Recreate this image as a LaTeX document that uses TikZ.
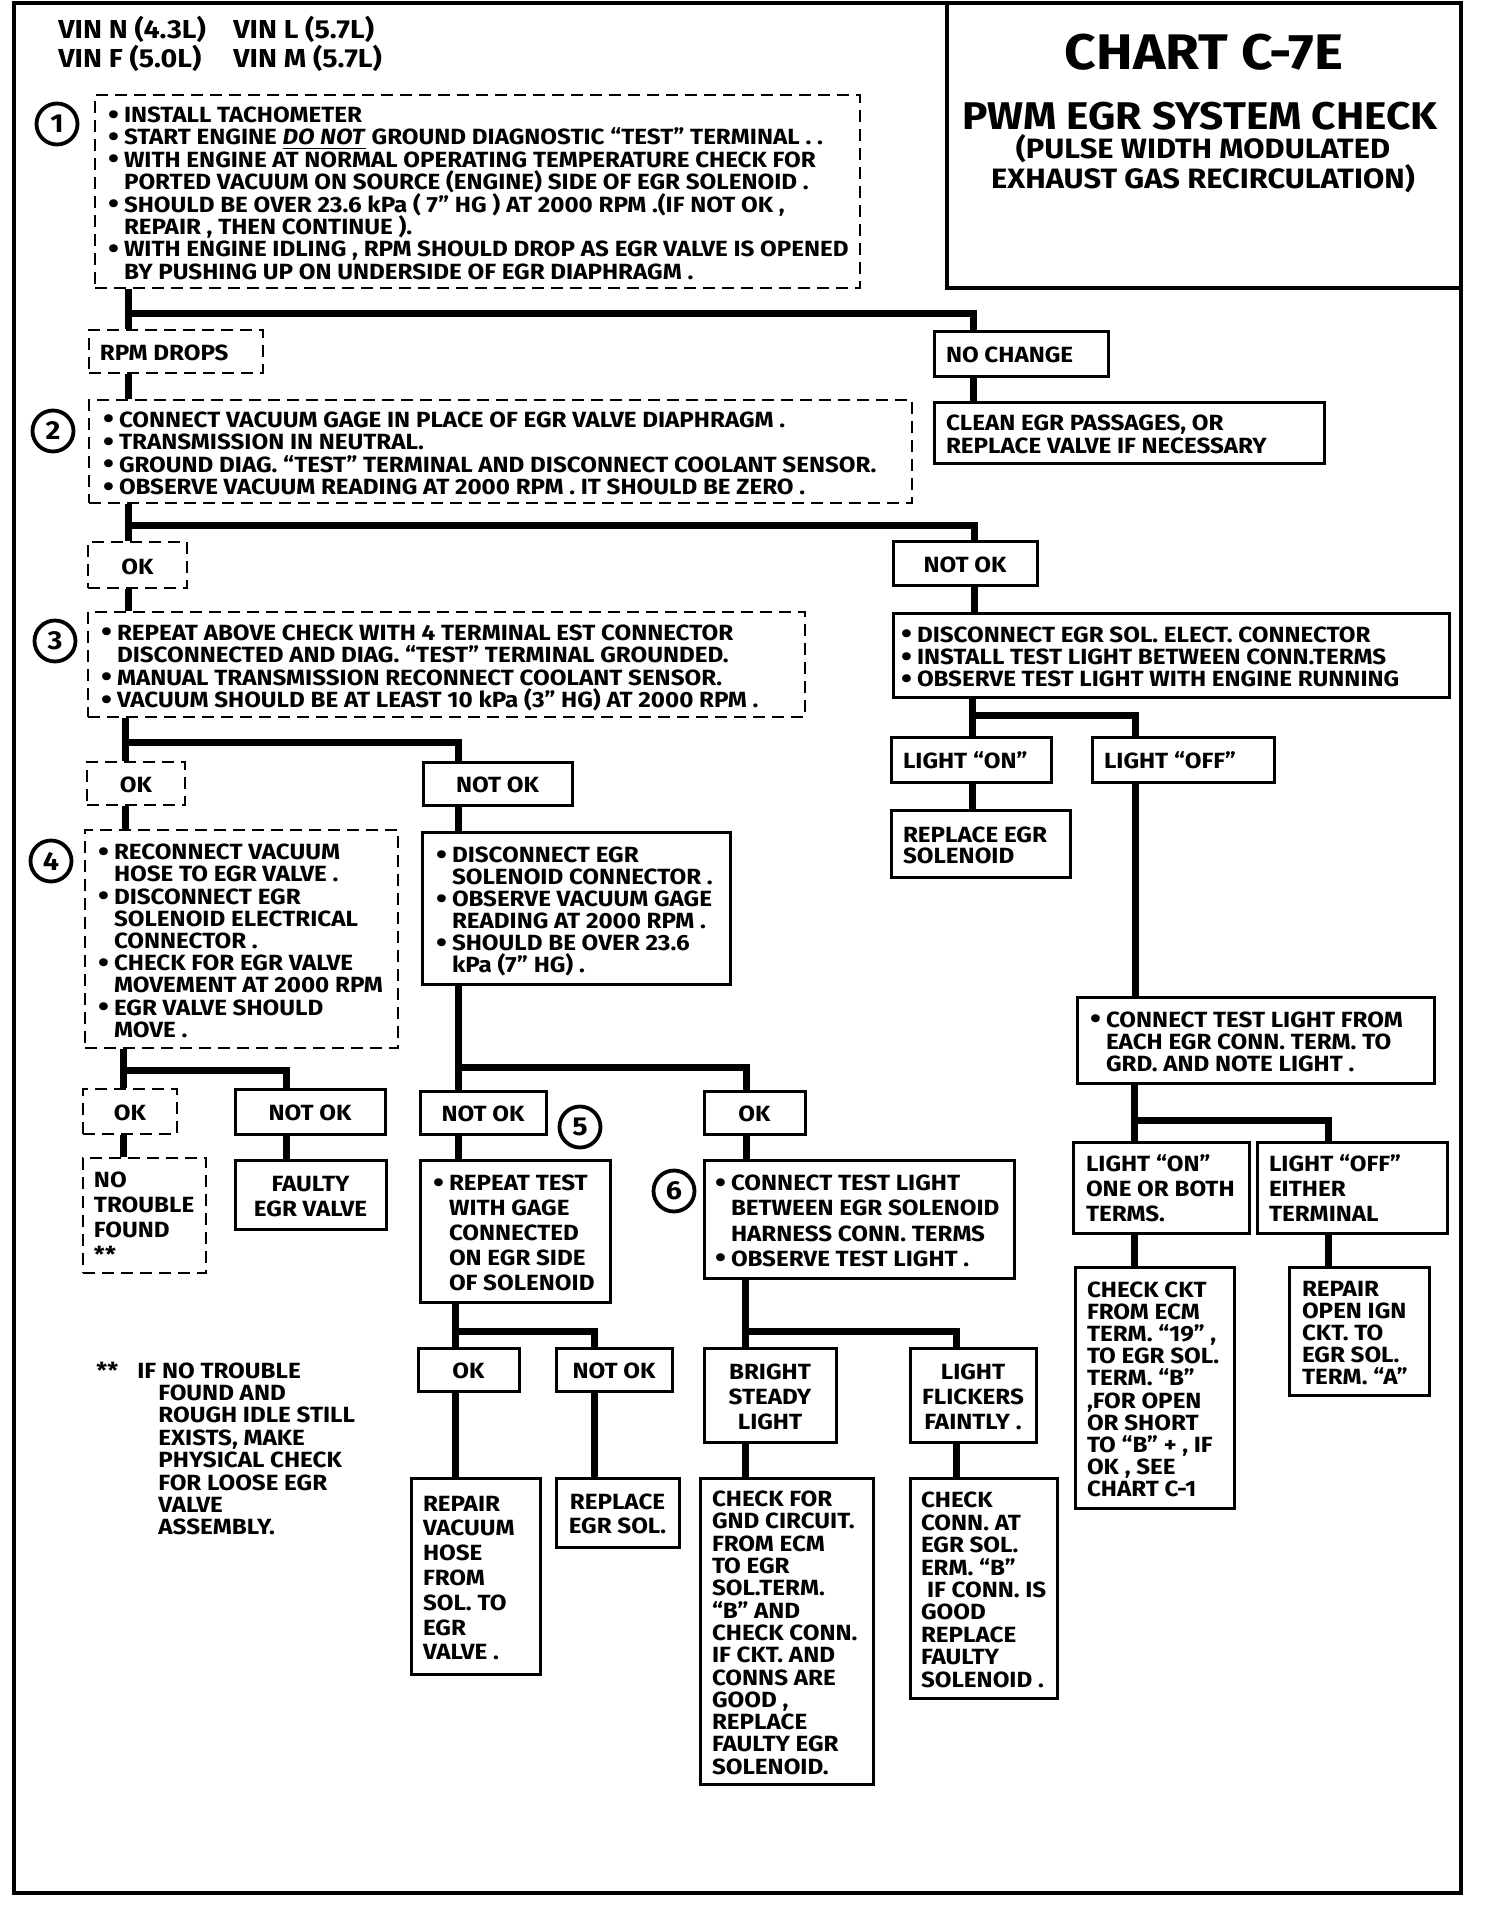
\documentclass[tikz,border=0pt]{standalone}
\usepackage{graphicx}
\usepackage{fontspec}
\setmainfont{Fira Sans}[FakeStretch=1.1]
\newcommand\bul{\makebox[7pt][l]{\hspace*{-1pt}\raisebox{-0.8pt}{\scalebox{1.3}{\textbullet}}}}
\newcommand\ind{\hspace*{7pt}}
\newcommand\bxl[8]{%
  \pgfmathsetmacro\Bxw{(#4-#2)*0.5}%
  \pgfmathsetmacro\Bxh{(#5-#3)*0.5}%
  \pgfmathsetmacro\Bxx{(#2+#4)/2}%
  \pgfmathsetmacro\Bxy{(#3+#5)/2}%
  \pgfmathsetmacro\Bxp{#7*0.5}%
  \node[#6, minimum width=\Bxw pt, minimum height=\Bxh pt] (#1) at (\Bxx,\Bxy)
    {\makebox[\Bxw pt][l]{\hspace*{\Bxp pt}\vbox{\kern9.4pt\let\\\cr\halign{\smash{##}\hfil\cr#8\crcr}}}};}
\newcommand\bxc[7]{%
  \pgfmathsetmacro\Bxw{(#4-#2)*0.5}%
  \pgfmathsetmacro\Bxh{(#5-#3)*0.5}%
  \pgfmathsetmacro\Bxx{(#2+#4)/2}%
  \pgfmathsetmacro\Bxy{(#3+#5)/2}%
  \node[#6, minimum width=\Bxw pt, minimum height=\Bxh pt] (#1) at (\Bxx,\Bxy)
    {\makebox[\Bxw pt][c]{\vbox{\kern9.4pt\let\\\cr\halign{\hfil\smash{##}\hfil\cr#7\crcr}}}};}
\tikzset{
  sbox/.style={draw, line width=1.5pt, inner sep=0pt, font={\fontsize{11}{11.2}\selectfont\bfseries}},
  dbox/.style={sbox, dash pattern=on 6pt off 3.5pt, line width=1.3pt},
  ls/.style={font={\fontsize{11}{#1}\selectfont\bfseries}},
  conn/.style={line width=3.5pt},
  circ/.style={circle, draw, line width=1.9pt, minimum size=20.5pt, inner sep=0pt, font={\fontsize{13}{13}\selectfont\bfseries}},
  ttl/.style={anchor=base, inner sep=0pt},
}
\begin{document}
\begin{tikzpicture}[x=0.5pt,y=-0.5pt]
\useasboundingbox (0,0) rectangle (1504,1916);
\fill[white] (0,0) rectangle (1504,1916);
% frame and title
\draw[line width=2pt] (14,3) rectangle (1461,1893);
\node[draw, line width=1.6pt, minimum width=257pt, minimum height=142.5pt, inner sep=0pt] (tbox) at (1204,145.5) {};
\node[ttl, font={\fontsize{25}{25}\selectfont\bfseries}] (t1) at (1204,70) {CHART C-7E};
\node[ttl, font={\fontsize{19.3}{19.3}\selectfont\bfseries}] (t2) at (1200,130) {PWM EGR SYSTEM CHECK};
\node[ttl, font={\fontsize{14}{14}\selectfont\bfseries}] (t3) at (1203,158) {(PULSE WIDTH MODULATED};
\node[ttl, font={\fontsize{14}{14}\selectfont\bfseries}] (t4) at (1203,188) {EXHAUST GAS RECIRCULATION)};
\node[anchor=base west, inner sep=0pt, font={\fontsize{13}{13}\selectfont\bfseries}] (vin1) at (58,39) {\makebox[87.5pt][l]{VIN N (4.3L)}VIN L (5.7L)};
\node[anchor=base west, inner sep=0pt, font={\fontsize{13}{13}\selectfont\bfseries}] (vin2) at (58,68) {\makebox[87.5pt][l]{VIN F (5.0L)}VIN M (5.7L)};
% circles
\node[circ] (c1) at (57,124) {1};
\node[circ] (c2) at (53,431) {2};
\node[circ] (c3) at (55,641) {3};
\node[circ] (c4) at (51,861) {4};
\node[circ] (c5) at (580,1127) {5};
\node[circ] (c6) at (674,1191) {6};
% boxes
\bxl{b1}{95}{95}{860}{288}{dbox,ls=11.2}{15}{\bul INSTALL TACHOMETER\\ \bul START ENGINE \underline{\textit{DO NOT}} GROUND  DIAGNOSTIC “TEST” TERMINAL . .\\ \bul WITH ENGINE AT NORMAL OPERATING TEMPERATURE  CHECK FOR\\ \ind PORTED VACUUM ON SOURCE (ENGINE) SIDE OF EGR SOLENOID .\\ \bul SHOULD BE OVER 23.6 kPa  ( 7” HG ) AT 2000 RPM .(IF NOT OK ,\\ \ind REPAIR , THEN CONTINUE ).\\ \bul WITH ENGINE IDLING , RPM  SHOULD DROP AS EGR VALVE IS OPENED\\ \ind BY PUSHING UP ON UNDERSIDE OF EGR DIAPHRAGM .}
\bxl{rpm}{89}{330}{263}{373}{dbox}{11}{RPM DROPS}
\bxl{nochg}{934}{331}{1108}{376}{sbox}{12}{NO CHANGE}
\bxl{clean}{934}{402}{1324}{463}{sbox}{12}{CLEAN EGR  PASSAGES, OR\\REPLACE VALVE IF NECESSARY}
\bxl{b2}{89}{400}{912}{503}{dbox}{16}{\bul CONNECT VACUUM GAGE IN PLACE OF EGR VALVE DIAPHRAGM .\\ \bul TRANSMISSION IN NEUTRAL.\\ \bul GROUND DIAG. “TEST” TERMINAL AND DISCONNECT COOLANT SENSOR.\\ \bul OBSERVE VACUUM READING AT 2000 RPM . IT SHOULD BE ZERO .}
\bxc{ok1}{88}{542}{187}{588}{dbox}{OK}
\bxc{notok1}{893}{541}{1037}{585}{sbox}{NOT OK}
\bxl{dis1}{893}{613}{1449}{697}{sbox}{10}{\bul DISCONNECT EGR SOL. ELECT. CONNECTOR\\ \bul INSTALL TEST LIGHT BETWEEN CONN.TERMS\\ \bul OBSERVE TEST LIGHT WITH ENGINE RUNNING}
\bxl{b3}{88}{612}{805}{717}{dbox,ls=11.2}{15}{\bul REPEAT ABOVE CHECK WITH  4 TERMINAL EST CONNECTOR\\ \ind DISCONNECTED AND DIAG. “TEST” TERMINAL GROUNDED.\\ \bul MANUAL TRANSMISSION RECONNECT COOLANT SENSOR.\\ \bul VACUUM SHOULD BE AT LEAST 10 kPa (3” HG) AT 2000 RPM .}
\bxl{lon}{891}{737}{1051}{782}{sbox}{12}{LIGHT “ON”}
\bxl{loff}{1092}{737}{1274}{782}{sbox}{12}{LIGHT “OFF”}
\bxl{repsol}{891}{810}{1070}{877}{sbox,ls=10.5}{12}{REPLACE  EGR\\SOLENOID}
\bxl{ctl}{1077}{997}{1434}{1083}{sbox}{15}{\bul CONNECT TEST LIGHT FROM\\ \ind EACH EGR CONN. TERM. TO\\ \ind GRD. AND NOTE LIGHT .}
\bxl{lon2}{1073}{1142}{1249}{1233}{sbox,ls=12.5}{13}{LIGHT “ON”\\ONE OR BOTH\\TERMS.}
\bxl{loff2}{1257}{1142}{1447}{1233}{sbox,ls=12.5}{12}{LIGHT “OFF”\\EITHER\\TERMINAL}
\bxl{chk}{1075}{1267}{1234}{1508}{sbox,ls=11.1}{12}{CHECK  CKT\\FROM ECM\\TERM. “19” ,\\TO EGR SOL.\\TERM. “B”\\,FOR OPEN\\OR SHORT\\TO “B”  + , IF\\OK , SEE\\CHART C-1}
\bxl{repign}{1289}{1267}{1429}{1395}{sbox,ls=11.1}{13}{REPAIR\\OPEN IGN\\CKT. TO\\EGR SOL.\\TERM. “A”}
\bxc{ok2}{87}{762}{185}{805}{dbox}{OK}
\bxc{notok2}{423}{762}{572}{805}{sbox}{NOT OK}
\bxl{b4}{85}{830}{398}{1048}{dbox,ls=11.1}{15}{\bul RECONNECT VACUUM\\ \ind HOSE TO EGR VALVE  .\\ \bul DISCONNECT EGR\\ \ind SOLENOID ELECTRICAL\\ \ind CONNECTOR .\\ \bul CHECK FOR EGR VALVE\\ \ind MOVEMENT AT 2000 RPM\\ \bul EGR VALVE SHOULD\\ \ind MOVE .}
\bxl{dis2}{422}{832}{730}{984}{sbox,ls=11}{16}{\bul DISCONNECT EGR\\ \ind SOLENOID CONNECTOR .\\ \bul OBSERVE VACUUM GAGE\\ \ind READING AT 2000 RPM .\\ \bul SHOULD BE OVER 23.6\\ \ind kPa (7” HG) .}
\bxc{ok3}{83}{1089}{177}{1134}{dbox}{OK}
\bxc{notok3}{235}{1089}{385}{1134}{sbox}{NOT OK}
\bxl{ntf}{83}{1158}{206}{1273}{dbox,ls=12.4}{11}{NO\\TROUBLE\\FOUND\\{}**}
\bxc{faulty}{235}{1160}{386}{1229}{sbox,ls=12.5}{FAULTY\\EGR VALVE}
\bxc{notok4}{420}{1091}{546}{1134}{sbox}{NOT OK}
\bxl{rep5}{420}{1160}{610}{1302}{sbox,ls=12.5}{15}{\bul REPEAT  TEST\\ \ind WITH GAGE\\ \ind CONNECTED\\ \ind ON EGR SIDE\\ \ind OF SOLENOID}
\bxc{ok4}{704}{1091}{805}{1134}{sbox}{OK}
\bxl{ctl6}{704}{1160}{1014}{1278}{sbox,ls=12.6}{13}{\bul CONNECT TEST LIGHT\\ \ind BETWEEN EGR SOLENOID\\ \ind HARNESS CONN. TERMS\\ \bul OBSERVE TEST LIGHT .}
\bxc{ok5}{418}{1348}{519}{1391}{sbox}{OK}
\bxc{notok5}{556}{1348}{672}{1391}{sbox}{NOT OK}
\bxl{rvh}{411}{1478}{540}{1674}{sbox,ls=12.4}{12}{REPAIR\\VACUUM\\HOSE\\FROM\\SOL. TO\\EGR\\VALVE .}
\bxc{reps}{556}{1478}{679}{1547}{sbox,ls=12}{REPLACE\\EGR SOL.}
\bxc{bsl}{704}{1348}{836}{1442}{sbox,ls=12.5}{BRIGHT\\STEADY\\LIGHT}
\bxc{lff}{910}{1348}{1036}{1442}{sbox,ls=12.5}{LIGHT\\FLICKERS\\FAINTLY .}
\bxl{cfg}{700}{1478}{873}{1784}{sbox,ls=11.15}{12}{CHECK FOR\\GND CIRCUIT.\\FROM ECM\\TO EGR\\SOL.TERM.\\“B” AND\\CHECK CONN.\\IF CKT. AND\\CONNS ARE\\GOOD ,\\REPLACE\\FAULTY EGR\\SOLENOID.}
\bxl{ccn}{910}{1478}{1057}{1698}{sbox,ls=11.2}{11}{CHECK\\CONN. AT\\EGR SOL.\\ERM. “B”\\\hspace*{3pt}IF CONN. IS\\GOOD\\REPLACE\\FAULTY\\SOLENOID .}
% footnote
\node[anchor=base west, inner sep=0pt, ls=11.2] (foot) at (96,1378) {\begin{tabular}[t]{@{}l@{}}\makebox[20.5pt][l]{**}IF NO TROUBLE\\ \hspace*{31pt}FOUND AND\\ \hspace*{31pt}ROUGH IDLE STILL\\ \hspace*{31pt}EXISTS, MAKE\\ \hspace*{31pt}PHYSICAL CHECK\\ \hspace*{31pt}FOR LOOSE EGR\\ \hspace*{31pt}VALVE\\ \hspace*{31pt}ASSEMBLY.\end{tabular}};
% junction coordinates
\coordinate (ja) at (128,313); \coordinate (ja2) at (973,313);
\coordinate (jb) at (128,525); \coordinate (jb2) at (974,525);
\coordinate (jc) at (972,715); \coordinate (jc2) at (1135,715);
\coordinate (jd) at (1134,1120); \coordinate (jd2) at (1328,1120);
\coordinate (je) at (125,742); \coordinate (je2) at (458,742);
\coordinate (jf) at (123,1070); \coordinate (jf2) at (286,1070);
\coordinate (jg) at (458,1067); \coordinate (jg2) at (746,1067);
\coordinate (jh) at (455,1331); \coordinate (jh2) at (594,1331);
\coordinate (ji) at (745,1331); \coordinate (ji2) at (956,1331);
% connectors
\draw[conn] (b1.south -| ja) -- (rpm.north -| ja);
\draw[conn] (ja) -- (ja2) -- (nochg.north -| ja2);
\draw[conn] (nochg.south -| ja2) -- (clean.north -| ja2);
\draw[conn] (rpm.south -| ja) -- (b2.north -| ja);
\draw[conn] (b2.south -| jb) -- (ok1.north -| jb);
\draw[conn] (jb) -- (jb2) -- (notok1.north -| jb2);
\draw[conn] (ok1.south -| jb) -- (b3.north -| jb);
\draw[conn] (notok1.south -| jb2) -- (dis1.north -| jb2);
\draw[conn] (dis1.south -| jc) -- (lon.north -| jc);
\draw[conn] (jc) -- (jc2) -- (loff.north -| jc2);
\draw[conn] (lon.south -| jc) -- (repsol.north -| jc);
\draw[conn] (loff.south -| jc2) -- (ctl.north -| jc2);
\draw[conn] (ctl.south -| jd) -- (lon2.north -| jd);
\draw[conn] (jd) -- (jd2) -- (loff2.north -| jd2);
\draw[conn] (lon2.south -| jd) -- (chk.north -| jd);
\draw[conn] (loff2.south -| jd2) -- (repign.north -| jd2);
\draw[conn] (b3.south -| je) -- (ok2.north -| je);
\draw[conn] (je) -- (je2) -- (notok2.north -| je2);
\draw[conn] (ok2.south -| je) -- (b4.north -| je);
\draw[conn] (notok2.south -| je2) -- (dis2.north -| je2);
\draw[conn] (b4.south -| jf) -- (ok3.north -| jf);
\draw[conn] (jf) -- (jf2) -- (notok3.north -| jf2);
\draw[conn] (ok3.south -| jf) -- (ntf.north -| jf);
\draw[conn] (notok3.south -| jf2) -- (faulty.north -| jf2);
\draw[conn] (dis2.south -| jg) -- (notok4.north -| jg);
\draw[conn] (jg) -- (jg2) -- (ok4.north -| jg2);
\draw[conn] (notok4.south -| jg) -- (rep5.north -| jg);
\draw[conn] (ok4.south -| jg2) -- (ctl6.north -| jg2);
\draw[conn] (rep5.south -| jh) -- (ok5.north -| jh);
\draw[conn] (jh) -- (jh2) -- (notok5.north -| jh2);
\draw[conn] (ok5.south -| jh) -- (rvh.north -| jh);
\draw[conn] (notok5.south -| jh2) -- (reps.north -| jh2);
\draw[conn] (ctl6.south -| ji) -- (bsl.north -| ji);
\draw[conn] (ji) -- (ji2) -- (lff.north -| ji2);
\draw[conn] (bsl.south -| ji) -- (cfg.north -| ji);
\draw[conn] (lff.south -| ji2) -- (ccn.north -| ji2);
\end{tikzpicture}
\end{document}
